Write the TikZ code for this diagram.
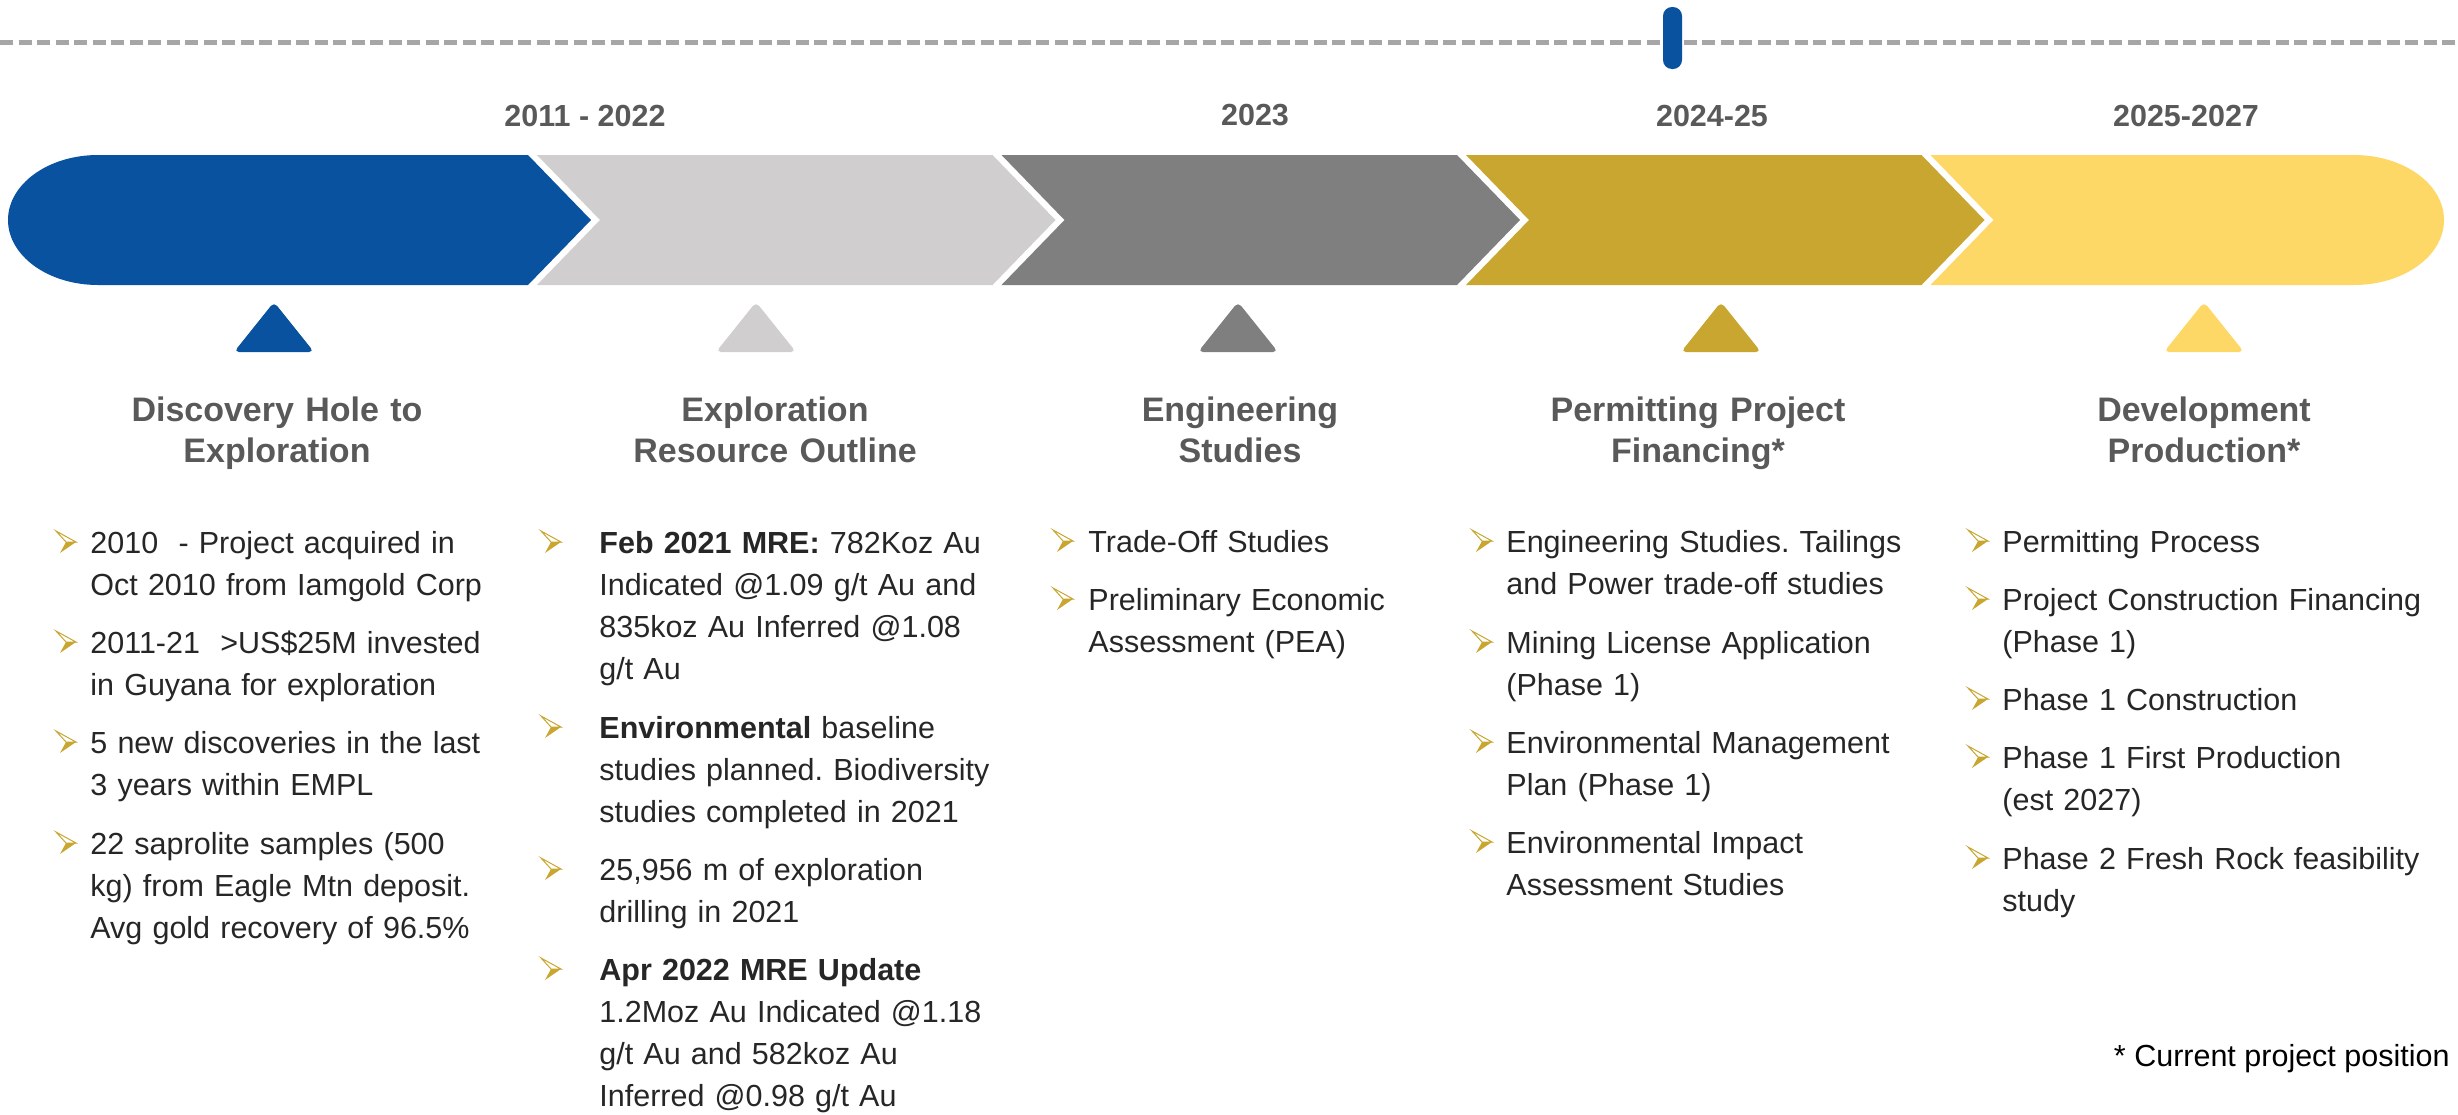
\documentclass[tikz,border=0pt]{standalone}
\usepackage{fontspec}
\setmainfont{Liberation Sans}
\frenchspacing
\definecolor{cblue}{RGB}{9,82,160}
\definecolor{clgray}{RGB}{208,206,207}
\definecolor{cdgray}{RGB}{127,127,127}
\definecolor{cgold}{RGB}{201,166,48}
\definecolor{cyellow}{RGB}{253,216,102}
\definecolor{dashgray}{RGB}{166,166,166}
\definecolor{headgray}{RGB}{89,89,89}
\definecolor{bodytext}{RGB}{38,38,38}
\begin{document}
\begin{tikzpicture}[x=0.5pt,y=-0.5pt,
  yearlbl/.style={font=\fontsize{15.25pt}{18pt}\selectfont\bfseries, text=headgray, inner sep=0pt, anchor=base},
  headlbl/.style={font=\fontsize{17pt}{20.5pt}\selectfont\bfseries, text=headgray, inner sep=0pt, anchor=base, text width=220pt, align=center},
  item/.style={font=\fontsize{15.25pt}{21.15pt}\selectfont\frenchspacing, text=bodytext, inner sep=0pt, anchor=base west, text width=240pt, align=left},
  marker/.style={rounded corners=2.5pt},
  bul/.pic={
    \draw[cgold, line width=0.5pt, fill=white, line join=miter] (0,-22) -- (20,-11) -- (10,-11) -- cycle;
    \fill[cgold] (10,-11) -- (20,-11) -- (4,0) -- cycle;
  }
]
\useasboundingbox (0,0) rectangle (2458,1114);

% dashed timeline and current marker
\coordinate (dl) at (0,42);
\coordinate (dr) at (2458,42);
\draw[dashgray, line width=2.5pt, dash pattern=on 6.5pt off 2.75pt] (dl) -- (dr);
\fill[cblue, rounded corners=4.5pt] (1663,7) rectangle (1682,69);

% chevron band
\fill[cblue] (98,155) -- (528,155) -- (591,220) -- (528,285) -- (98,285)
   arc[start angle=90, end angle=270, x radius=90, y radius=65] -- cycle;
\fill[clgray] (537,155) -- (992.5,155) -- (1055.5,220) -- (992.5,285) -- (537,285) -- (600,220) -- cycle;
\fill[cdgray] (1001.5,155) -- (1457,155) -- (1520,220) -- (1457,285) -- (1001.5,285) -- (1064.5,220) -- cycle;
\fill[cgold] (1466,155) -- (1921.5,155) -- (1984.5,220) -- (1921.5,285) -- (1466,285) -- (1529,220) -- cycle;
\fill[cyellow] (1930.5,155) -- (2354,155)
   arc[start angle=-90, end angle=90, x radius=90, y radius=65] -- (1930.5,285) -- (1993.5,220) -- cycle;

% years
\node[yearlbl] (y1) at (585,126) {2011 - 2022};
\node[yearlbl] (y2) at (1255,125) {2023};
\node[yearlbl] (y3) at (1712,126) {2024-25};
\node[yearlbl] (y4) at (2186,126) {2025-2027};

% triangles
\fill[cblue, marker] (234,352) -- (274,302) -- (314,352) -- cycle;
\fill[clgray, marker] (716,352) -- (756,302) -- (796,352) -- cycle;
\fill[cdgray, marker] (1198,352) -- (1238,302) -- (1278,352) -- cycle;
\fill[cgold, marker] (1681,352) -- (1721,302) -- (1761,352) -- cycle;
\fill[cyellow, marker] (2164,352) -- (2204,302) -- (2244,352) -- cycle;

% headings
\node[headlbl] (h1) at (277,421) {Discovery Hole to\\Exploration};
\node[headlbl] (h2) at (775,421) {Exploration\\Resource Outline};
\node[headlbl] (h3) at (1240,421) {Engineering\\Studies};
\node[headlbl] (h4) at (1698,421) {Permitting Project\\Financing*};
\node[headlbl] (h5) at (2204,421) {Development\\Production*};

% column 1
\pic at (56,553) {bul};
\node[item] (a1) at (90,553) {2010~~- Project acquired in\\Oct 2010 from Iamgold Corp};
\pic at (56,653) {bul};
\node[item] (a2) at (90,653) {2011-21~~>US\$25M invested\\in Guyana for exploration};
\pic at (56,753) {bul};
\node[item] (a3) at (90,753) {5 new discoveries in the last\\3 years within EMPL};
\pic at (56,854) {bul};
\node[item] (a4) at (90,854) {22 saprolite samples (500\\kg) from Eagle Mtn deposit.\\Avg gold recovery of 96.5\%};

% column 2
\pic at (541,553) {bul};
\node[item] (b1) at (599,553) {\textbf{Feb 2021 MRE:} 782Koz Au\\Indicated @1.09 g/t Au and\\835koz Au Inferred @1.08\\g/t Au};
\pic at (541,738) {bul};
\node[item] (b2) at (599,738) {\textbf{Environmental} baseline\\studies planned. Biodiversity\\studies completed in 2021};
\pic at (541,880) {bul};
\node[item] (b3) at (599,880) {25,956 m of exploration\\drilling in 2021};
\pic at (541,980) {bul};
\node[item] (b4) at (599,980) {\textbf{Apr 2022 MRE Update}\\1.2Moz Au Indicated @1.18\\g/t Au and 582koz Au\\Inferred @0.98 g/t Au};

% column 3
\pic at (1053,552) {bul};
\node[item] (c1) at (1088,552) {Trade-Off Studies};
\pic at (1053,610) {bul};
\node[item] (c2) at (1088,610) {Preliminary Economic\\Assessment (PEA)};

% column 4
\pic at (1472,552) {bul};
\node[item] (d1) at (1506,552) {Engineering Studies. Tailings\\and Power trade-off studies};
\pic at (1472,653) {bul};
\node[item] (d2) at (1506,653) {Mining License Application\\(Phase 1)};
\pic at (1472,753) {bul};
\node[item] (d3) at (1506,753) {Environmental Management\\Plan (Phase 1)};
\pic at (1472,853) {bul};
\node[item] (d4) at (1506,853) {Environmental Impact\\Assessment Studies};

% column 5
\pic at (1968,552) {bul};
\node[item] (e1) at (2002,552) {Permitting Process};
\pic at (1968,610) {bul};
\node[item] (e2) at (2002,610) {Project Construction Financing\\(Phase 1)};
\pic at (1968,710) {bul};
\node[item] (e3) at (2002,710) {Phase 1 Construction};
\pic at (1968,768) {bul};
\node[item] (e4) at (2002,768) {Phase 1 First Production\\(est 2027)};
\pic at (1968,869) {bul};
\node[item] (e5) at (2002,869) {Phase 2 Fresh Rock feasibility\\study};

% footnote
\node[font=\fontsize{15.25pt}{18pt}\selectfont, text=black, inner sep=0pt, anchor=base east] (fn) at (2450,1066) {* Current project position};
\end{tikzpicture}
\end{document}
